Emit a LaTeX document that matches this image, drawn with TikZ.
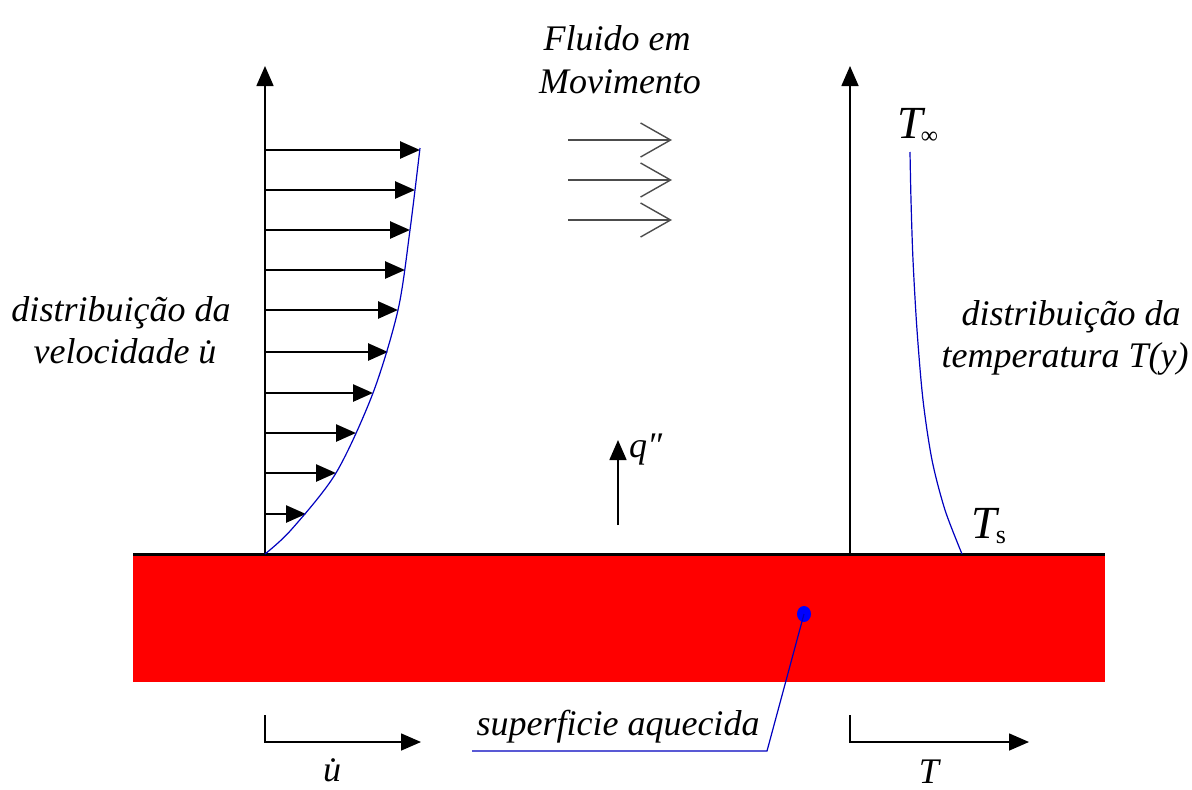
\documentclass[tikz,border=0pt]{standalone}
\usepackage{fontspec}
\setmainfont{Liberation Serif}
\usetikzlibrary{arrows.meta}
\begin{document}
\begin{tikzpicture}[x=1pt,y=-1pt,
  axis/.style={line width=1.6pt, -{Triangle[length=20pt,width=17pt]}},
  varrow/.style={line width=2.6pt, -{Triangle[length=20pt,width=17pt]}},
  flow/.style={line width=1.4pt, draw=black!70, -{Straight Barb[length=30pt,width=34pt,line width=1.4pt]}},
  lbl/.style={font=\itshape\fontsize{36}{43}\selectfont, inner sep=0pt, anchor=base},
  sym/.style={font=\itshape\fontsize{46}{50}\selectfont, inner sep=0pt, anchor=base west},
  curve/.style={draw=blue!75!black, line width=1.2pt},
]
\useasboundingbox (0,0) rectangle (1192,790);
% plate
\fill[red] (133,555) rectangle (1105,682);
\draw[line width=3pt] (133,554) -- (1105,554);
% velocity axis and profile
\coordinate (o1) at (265,554);
\coordinate (t1) at (265,66);
\draw[axis] (o1) -- (t1);
\foreach \yy/\xx in {150/420,190/415,230/410,270/405,310/398,352/388,393/373,433/356,473/336,514/306}{
  \coordinate (s\yy) at (265,\yy);
  \coordinate (e\yy) at (\xx,\yy);
  \draw[varrow] (s\yy) -- (e\yy);
}
\draw[curve] plot[smooth] coordinates {(265,554) (291,530) (336,473) (373,393) (398,310) (410,230) (420,148)};
% flow
\node[lbl] (f1) at (617,50) {Fluido em};
\node[lbl] (f2) at (620,93) {Movimento};
\foreach \yy in {140,180,220}{
  \coordinate (fa\yy) at (568,\yy);
  \coordinate (fb\yy) at (672,\yy);
  \draw[flow] (fa\yy) -- (fb\yy);
}
% labels left / right
\node[lbl] (vl1) at (121,321) {distribuição da};
\node[lbl] (vl2) at (125,363) {velocidade \.{u}};
\node[lbl] (tl1) at (1071,325) {distribuição da};
\node[lbl] (tl2) at (1065,367) {temperatura T(y)};
% heat flux
\coordinate (q0) at (618,525);
\coordinate (q1) at (618,440);
\draw[axis] (q0) -- (q1);
\node[lbl, anchor=base west] (ql) at (629,457) {q″};
% temperature axis and profile
\coordinate (o2) at (850,554);
\coordinate (t2) at (850,66);
\draw[axis] (o2) -- (t2);
\draw[curve] plot[smooth] coordinates {(910,152) (911,200) (913,260) (917,330) (923,400) (932,460) (945,510) (962,554)};
\node[sym] (tinf) at (897,138) {T\kern-2pt\raisebox{-5pt}{\upshape\fontsize{24}{24}\selectfont ∞}};
\node[sym] (ts) at (971,538) {T\kern-1pt\raisebox{-5pt}{\upshape\fontsize{26}{26}\selectfont s}};
% bottom axes
\coordinate (u0) at (265,715);
\coordinate (uc) at (265,742);
\coordinate (u1) at (421,742);
\draw[axis] (u0) -- (uc) -- (u1);
\node[lbl] (ul) at (332,781) {\.{u}};
\coordinate (w0) at (850,715);
\coordinate (wc) at (850,742);
\coordinate (w1) at (1029,742);
\draw[axis] (w0) -- (wc) -- (w1);
\node[lbl] (tlab) at (929,783) {T};
% heated surface label
\node[lbl] (sup) at (618,735) {superficie aquecida};
\fill[blue] (804,614) ellipse (7pt and 8pt);
\coordinate (d0) at (804,614);
\coordinate (dk) at (767,751);
\coordinate (dl) at (472,751);
\draw[blue!75!black, line width=1.2pt] (d0) -- (dk) -- (dl);
\end{tikzpicture}
\end{document}
